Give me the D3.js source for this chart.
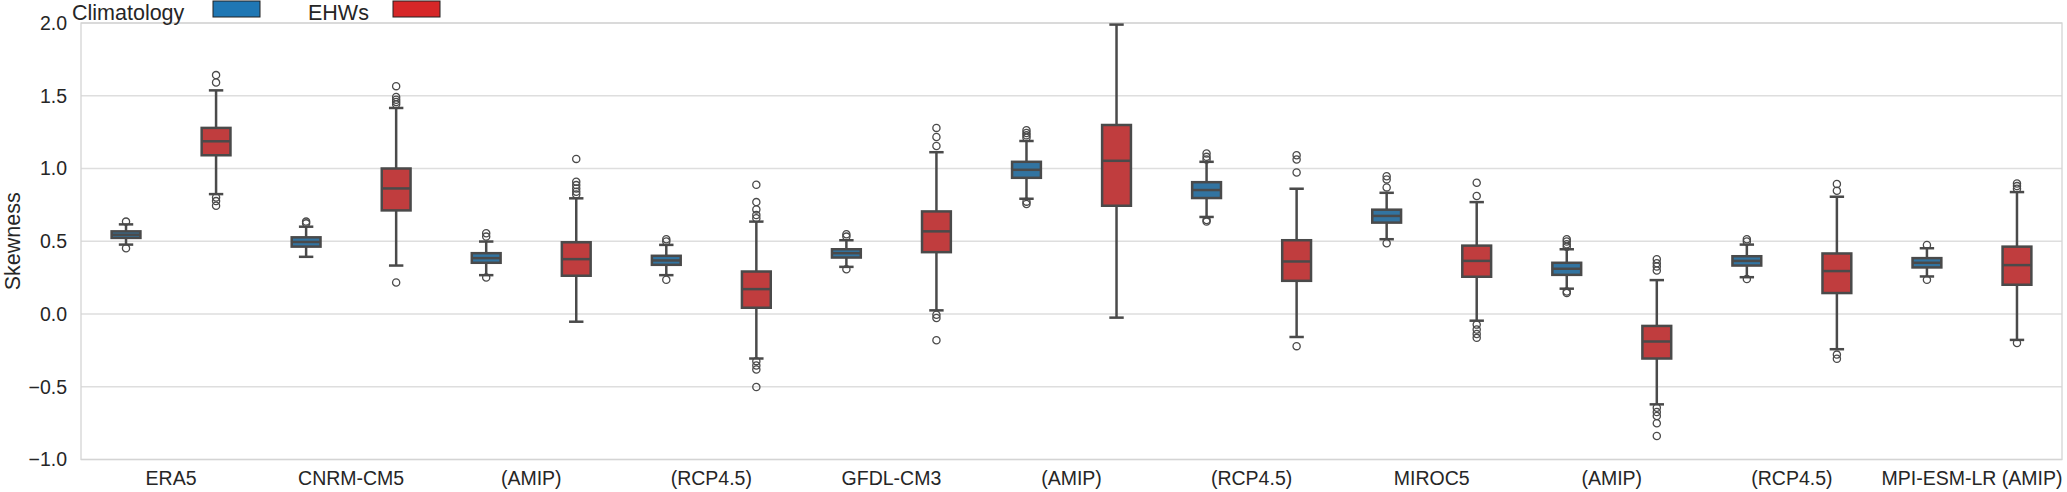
<!DOCTYPE html>
<html>
<head>
<meta charset="utf-8">
<script src="https://cdn.jsdelivr.net/npm/d3@7"></script>
<style>
  html, body { margin: 0; padding: 0; background: #fff; }
  text { font-family: "Liberation Sans", Arial, sans-serif; fill: #262626; }
</style>
</head>
<body>
<div id="chart"></div>
<script>
// categories on the x axis
const categories = ['ERA5', 'CNRM-CM5', '(AMIP)', '(RCP4.5)', 'GFDL-CM3', '(AMIP)', '(RCP4.5)',
  'MIROC5', '(AMIP)', '(RCP4.5)', 'MPI-ESM-LR (AMIP)'];
const series = ['Climatology', 'EHWs'];
const yTicks = [-1.0, -0.5, 0.0, 0.5, 1.0, 1.5, 2.0];

// [lower whisker, q1, median, q3, upper whisker]
const climatologyBoxes = [
  [0.477, 0.523, 0.545, 0.568, 0.616],
  [0.393, 0.463, 0.495, 0.527, 0.600],
  [0.267, 0.352, 0.384, 0.418, 0.498],
  [0.267, 0.338, 0.368, 0.400, 0.475],
  [0.324, 0.388, 0.418, 0.445, 0.507],
  [0.792, 0.936, 0.991, 1.046, 1.189],
  [0.667, 0.797, 0.852, 0.906, 1.046],
  [0.514, 0.628, 0.674, 0.717, 0.833],
  [0.174, 0.269, 0.311, 0.352, 0.445],
  [0.253, 0.333, 0.365, 0.397, 0.477],
  [0.258, 0.320, 0.352, 0.384, 0.452],
];
const climatologyOutliers = [
  [0.635, 0.452],
  [0.635, 0.623],
  [0.555, 0.532, 0.251],
  [0.514, 0.498, 0.235],
  [0.548, 0.532, 0.308],
  [1.263, 1.244, 1.228, 1.212, 0.772, 0.756],
  [1.103, 1.080, 1.062, 0.646, 0.635],
  [0.947, 0.925, 0.870, 0.486],
  [0.514, 0.498, 0.479, 0.463, 0.155, 0.144],
  [0.514, 0.498, 0.240],
  [0.475, 0.235],
];
const ehwBoxes = [
  [0.824, 1.091, 1.187, 1.279, 1.537],
  [0.333, 0.712, 0.863, 1.000, 1.416],
  [-0.053, 0.263, 0.377, 0.493, 0.795],
  [-0.306, 0.043, 0.171, 0.292, 0.635],
  [0.025, 0.425, 0.568, 0.705, 1.112],
  [-0.025, 0.744, 1.053, 1.299, 1.989],
  [-0.158, 0.228, 0.361, 0.507, 0.861],
  [-0.046, 0.256, 0.365, 0.470, 0.769],
  [-0.621, -0.306, -0.189, -0.082, 0.233],
  [-0.242, 0.144, 0.295, 0.416, 0.806],
  [-0.178, 0.201, 0.336, 0.463, 0.838],
];
const ehwOutliers = [
  [1.642, 1.591, 0.801, 0.776, 0.744],
  [1.566, 1.491, 1.473, 1.457, 1.441, 0.217],
  [1.066, 0.909, 0.886, 0.863, 0.840, 0.822],
  [0.888, 0.769, 0.719, 0.680, 0.658, -0.324, -0.354, -0.381, -0.502],
  [1.279, 1.217, 1.155, -0.005, -0.027, -0.180],
  [],
  [1.091, 1.062, 0.973, -0.221],
  [0.902, 0.811, -0.073, -0.107, -0.137, -0.164],
  [0.377, 0.349, 0.326, 0.299, -0.644, -0.674, -0.701, -0.751, -0.838],
  [0.893, 0.847, -0.279, -0.308],
  [0.897, 0.879, 0.861, -0.199],
];

const width = 2067;
const height = 492;
const margin = { top: 23, right: 5, bottom: 32, left: 81 };
const lineColor = '#4a4a4a';
const boxFill = { Climatology: '#3274a1', EHWs: '#c03d3e' };
const legendFill = { Climatology: '#1f77b4', EHWs: '#d62728' };

const svg = d3.select('#chart')
  .append('svg')
  .attr('width', width)
  .attr('height', height);

const x = d3.scaleBand()
  .domain(d3.range(categories.length))
  .range([margin.left, width - margin.right]);
const xHue = d3.scaleBand()
  .domain(series)
  .range([0, x.bandwidth()]);
const y = d3.scaleLinear()
  .domain([-1, 2])
  .range([height - margin.bottom - 0.5, margin.top]);

// grid
svg.append('g')
  .selectAll('line')
  .data(yTicks)
  .join('line')
  .attr('x1', margin.left)
  .attr('x2', width - margin.right)
  .attr('y1', (d) => y(d))
  .attr('y2', (d) => y(d))
  .attr('stroke', '#dedede')
  .attr('stroke-width', 1.3);

// frame
svg.append('rect')
  .attr('x', margin.left)
  .attr('y', y(2))
  .attr('width', width - margin.right - margin.left)
  .attr('height', y(-1) - y(2))
  .attr('fill', 'none')
  .attr('stroke', '#d4d4d4')
  .attr('stroke-width', 1.3);

// y axis
const yAxis = svg.append('g')
  .attr('transform', `translate(${margin.left},0)`)
  .call(d3.axisLeft(y).tickValues(yTicks).tickSize(0).tickPadding(14)
    .tickFormat((d) => d3.format('.1f')(d).replace('-', '\u2212')));
yAxis.select('.domain').remove();
yAxis.selectAll('text')
  .attr('font-size', 19.5)
  .attr('fill', '#262626')
  .style('font-family', '"Liberation Sans", Arial, sans-serif');

// x axis
const xAxis = svg.append('g')
  .attr('transform', `translate(0,${y(-1)})`)
  .call(d3.axisBottom(x).tickSize(0).tickPadding(12).tickFormat((i) => categories[i]));
xAxis.select('.domain').remove();
xAxis.selectAll('text')
  .attr('font-size', 19.5)
  .attr('fill', '#262626')
  .style('font-family', '"Liberation Sans", Arial, sans-serif');

svg.append('text')
  .attr('transform', `translate(20,${(y(2) + y(-1)) / 2}) rotate(-90)`)
  .attr('text-anchor', 'middle')
  .attr('font-size', 21.5)
  .text('Skewness');

// boxes
const boxes = [];
categories.forEach((c, i) => {
  boxes.push({ i, s: 'Climatology', v: climatologyBoxes[i], out: climatologyOutliers[i] });
  boxes.push({ i, s: 'EHWs', v: ehwBoxes[i], out: ehwOutliers[i] });
});
const boxW = xHue.bandwidth() * 0.32;
const capW = boxW / 2;

const g = svg.append('g')
  .selectAll('g')
  .data(boxes)
  .join('g')
  .attr('transform', (d) => `translate(${x(d.i) + xHue(d.s) + xHue.bandwidth() / 2},0)`);

// whiskers
g.append('line')
  .attr('x1', 0).attr('x2', 0)
  .attr('y1', (d) => y(d.v[0]))
  .attr('y2', (d) => y(d.v[1]))
  .attr('stroke', lineColor).attr('stroke-width', 2.5);
g.append('line')
  .attr('x1', 0).attr('x2', 0)
  .attr('y1', (d) => y(d.v[3]))
  .attr('y2', (d) => y(d.v[4]))
  .attr('stroke', lineColor).attr('stroke-width', 2.5);
// caps
g.append('line')
  .attr('x1', -capW / 2).attr('x2', capW / 2)
  .attr('y1', (d) => y(d.v[0]))
  .attr('y2', (d) => y(d.v[0]))
  .attr('stroke', lineColor).attr('stroke-width', 2.5);
g.append('line')
  .attr('x1', -capW / 2).attr('x2', capW / 2)
  .attr('y1', (d) => y(d.v[4]))
  .attr('y2', (d) => y(d.v[4]))
  .attr('stroke', lineColor).attr('stroke-width', 2.5);
// box
g.append('rect')
  .attr('x', -boxW / 2)
  .attr('width', boxW)
  .attr('y', (d) => y(d.v[3]))
  .attr('height', (d) => y(d.v[1]) - y(d.v[3]))
  .attr('fill', (d) => boxFill[d.s])
  .attr('stroke', lineColor).attr('stroke-width', 2.5);
// median
g.append('line')
  .attr('x1', -boxW / 2).attr('x2', boxW / 2)
  .attr('y1', (d) => y(d.v[2]))
  .attr('y2', (d) => y(d.v[2]))
  .attr('stroke', lineColor).attr('stroke-width', 2.5);
// outliers
g.selectAll('circle')
  .data((d) => d.out)
  .join('circle')
  .attr('cx', 0)
  .attr('cy', (d) => y(d))
  .attr('r', 3.6)
  .attr('fill', 'none')
  .attr('stroke', lineColor)
  .attr('stroke-width', 1.3);

// legend
const legendX = [72, 308];
const legend = svg.append('g')
  .selectAll('g')
  .data(series)
  .join('g')
  .attr('transform', (d, i) => `translate(${legendX[i]},0)`);
legend.append('text')
  .attr('x', 0)
  .attr('y', 20)
  .attr('font-size', 21.5)
  .text((d) => d);
legend.append('rect')
  .attr('x', (d, i) => (i === 0 ? 141 : 85))
  .attr('y', 1)
  .attr('width', 47)
  .attr('height', 16)
  .attr('fill', (d) => legendFill[d])
  .attr('stroke', '#222')
  .attr('stroke-width', 1);
</script>
</body>
</html>
